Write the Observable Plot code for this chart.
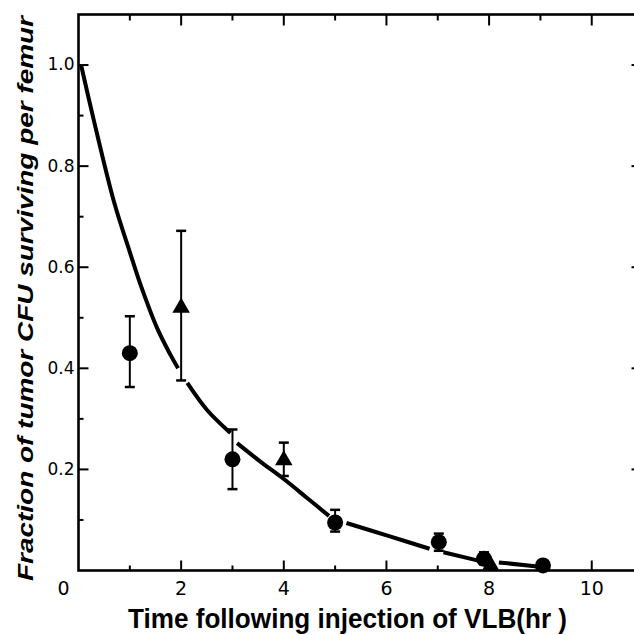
<!DOCTYPE html>
<html><head><meta charset="utf-8">
<script src="https://cdn.jsdelivr.net/npm/d3@7"></script>
<script src="https://cdn.jsdelivr.net/npm/@observablehq/plot@0.6"></script>
<style>html,body{margin:0;padding:0;background:#fff;overflow:hidden}</style>
</head><body><div id="chart"></div>
<script>
// ---- data ----
const circleX  = [1, 3, 5, 7.02, 7.9, 9.05];
const circleY  = [0.43, 0.22, 0.095, 0.056, 0.023, 0.01];
const circleLo = [0.363, 0.161, 0.077, 0.039, 0.012, 0.004];
const circleHi = [0.503, 0.279, 0.12, 0.073, 0.036, 0.018];

const triX  = [2, 4, 8.03];
const triY  = [0.52, 0.218, 0.01];
const triLo = [0.376, 0.187, null];
const triHi = [0.672, 0.253, null];

// fitted curve as drawn (with its printed gaps): segment id per point
const curveX   = [0.05, 0.3, 0.69, 1.0, 1.21, 1.53, 1.79, 1.94,  2.12, 2.5, 2.96,  3.09, 3.55, 4.0, 4.46, 4.88,  5.22, 6.02, 6.84,  7.11, 7.77,  8.19, 8.94];
const curveY   = [1.0, 0.89, 0.73, 0.63, 0.565, 0.48, 0.427, 0.40,  0.371, 0.318, 0.272,  0.252, 0.215, 0.181, 0.143, 0.108,  0.094, 0.069, 0.043,  0.036, 0.02,  0.016, 0.008];
const curveSeg = [1,1,1,1,1,1,1,1, 2,2,2, 3,3,3,3,3, 4,4,4, 5,5, 6,6];

const xMajor = [2, 4, 6, 8, 10];
const xMinor = [1, 3, 5, 7, 9];
const xLabels = ["2", "4", "6", "8", "10"];
const yMajor = [0.2, 0.4, 0.6, 0.8, 1.0];
const yMinor = [0.1, 0.3, 0.5, 0.7, 0.9];
const yLabels = ["0.2", "0.4", "0.6", "0.8", "1.0"];
const xTitle = "Time following injection of VLB(hr )";
const yTitle = "Fraction of tumor CFU surviving per femur";
const xMax = 10.95, yMax = 1.1;

// ---- tables ----
const circles = circleX.map((x, i) => ({x, y: circleY[i], lo: circleLo[i], hi: circleHi[i]}));
const tris = triX.map((x, i) => ({x, y: triY[i], lo: triLo[i], hi: triHi[i]}));
const errs = [...circles, ...tris].filter(d => d.lo != null);
const caps = errs.flatMap(d => [{x: d.x, y: d.lo}, {x: d.x, y: d.hi}]);
const curve = curveX.map((x, i) => ({x, y: curveY[i], seg: curveSeg[i]}));

// custom symbols (pixel-sized tick marks and caps)
const capSym = {draw(c){ c.moveTo(-5, 0); c.lineTo(5, 0); }};
const vTick = len => ({draw(c){ c.moveTo(0, 0); c.lineTo(0, len); }});
const hTick = len => ({draw(c){ c.moveTo(0, 0); c.lineTo(len, 0); }});

const lblFont = "DejaVu Sans";
const chart = Plot.plot({
  width: 634, height: 635,
  marginLeft: 78, marginRight: -6, marginTop: 14, marginBottom: 65,
  x: {domain: [0, xMax], axis: null},
  y: {domain: [0, yMax], axis: null},
  style: {background: "#fff"},
  marks: [
    Plot.frame({stroke: "#000", strokeWidth: 2.6}),
    // bottom ticks (inward)
    Plot.dot(xMajor, {x: d => d, y: () => 0, symbol: vTick(-10), stroke: "#000", strokeWidth: 2}),
    Plot.dot(xMinor, {x: d => d, y: () => 0, symbol: vTick(-5), stroke: "#000", strokeWidth: 2}),
    // top ticks (inward)
    Plot.dot(xMajor, {x: d => d, y: () => yMax, symbol: vTick(11), stroke: "#000", strokeWidth: 2}),
    Plot.dot(xMinor, {x: d => d, y: () => yMax, symbol: vTick(6), stroke: "#000", strokeWidth: 2}),
    // left ticks (inward)
    Plot.dot(yMajor, {x: () => 0, y: d => d, symbol: hTick(10), stroke: "#000", strokeWidth: 2}),
    Plot.dot(yMinor, {x: () => 0, y: d => d, symbol: hTick(5), stroke: "#000", strokeWidth: 2}),
    // right ticks (inward, mostly outside the picture)
    Plot.dot(yMajor, {x: () => xMax, y: d => d, symbol: hTick(-9), stroke: "#000", strokeWidth: 2}),
    // tick labels
    Plot.text(xMajor, {x: d => d, y: () => 0, text: (d, i) => xLabels[i], dy: 18, fontSize: 19, fontFamily: lblFont, fill: "#000"}),
    Plot.text(["0"], {x: () => 0, y: () => 0, text: d => d, dx: -15, dy: 18, fontSize: 19, fontFamily: lblFont, fill: "#000"}),
    Plot.text(yMajor, {x: () => 0, y: d => d, text: (d, i) => yLabels[i], dx: -4, textAnchor: "end", fontSize: 17, fontFamily: lblFont, fill: "#000"}),
    // axis titles
    Plot.text([xTitle], {frameAnchor: "bottom", text: d => d, dx: -12, dy: 57, fontSize: 27, fontWeight: "bold", fontFamily: "Liberation Sans", fill: "#000"}),
    Plot.text([yTitle], {frameAnchor: "left", textAnchor: "middle", lineAnchor: "middle", text: d => d, rotate: -90, dx: -53, dy: 6, fontSize: 22, fontWeight: "bold", fontStyle: "italic", fontFamily: "Liberation Sans", fill: "#000"}),
    // fitted curve
    Plot.line(curve, {x: "x", y: "y", z: "seg", curve: "catmull-rom", stroke: "#000", strokeWidth: 4, strokeLinecap: "butt"}),
    // error bars
    Plot.ruleX(errs, {x: "x", y1: "lo", y2: "hi", stroke: "#000", strokeWidth: 2}),
    Plot.dot(caps, {x: "x", y: "y", symbol: capSym, stroke: "#000", strokeWidth: 2.5}),
    // data points
    Plot.dot(circles, {x: "x", y: "y", r: 8, symbol: "circle", fill: "#000"}),
    Plot.dot(tris, {x: "x", y: "y", r: 6.5, symbol: "triangle", fill: "#000"})
  ]
});
document.getElementById("chart").appendChild(chart);

// fit title widths to the printed ones
for (const t of chart.querySelectorAll("text")) {
  if (t.textContent === xTitle) { t.setAttribute("textLength", 439); t.setAttribute("lengthAdjust", "spacingAndGlyphs"); }
  if (t.textContent === yTitle) { t.setAttribute("textLength", 565); t.setAttribute("lengthAdjust", "spacingAndGlyphs"); }
}
</script>
</body></html>
